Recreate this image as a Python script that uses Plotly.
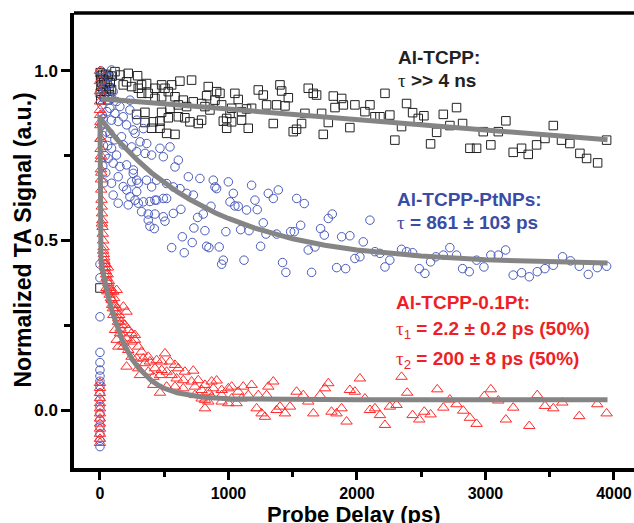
import plotly.graph_objects as go

# ---------------- data ----------------
# Al-TCPP (black open squares)
sq_x = [2, 5, 8, 3, 6, 10, 15, 20, 25, 30, 35, 40, 45, 50, 55, 60, 65, 70, 75, 80, 90, 95, 0,
        117, 156, 220, 293, 207, 181, 246, 324, 363, 298, 324, 376, 428, 480, 506, 558, 622, 713,
        532, 480, 584, 428, 648, 610, 545, 674, 726, 791, 843, 908, 934, 830, 895, 856, 817, 947,
        1025, 1050, 1076, 1102, 1141, 1232, 1271, 1401, 1414, 1466, 1297, 1375, 1440, 1180, 1012,
        986, 960, 1102, 1025, 1154, 1349, 1504, 1530, 1569, 1621, 1660, 1686, 1816, 1881, 1894,
        1984, 1829, 1595, 1725, 1777, 1945, 1738, 610, 532, 467, 415, 350, 402, 467, 519, 584, 700,
        765, 791, 661, 350, 480, 285, 986,
        2218, 2101, 2062, 2140, 2179, 2256, 2386, 2433, 2477, 2521, 2672, 2775, 2723, 2620, 2347,
        2295, 2573, 2822, 2983, 3100, 3159, 2879, 2931, 3042, 3216, 3281, 3333, 3398, 3528, 3463,
        3592, 3657, 3735, 3943, 3787, 3873]
sq_y = [0.995, 0.975, 0.955, 0.935, 0.915, 0.985, 0.965, 0.99, 0.945, 0.975, 0.925, 0.96, 0.99, 0.94,
        0.97, 0.915, 0.985, 0.95, 0.93, 0.965, 0.945, 0.985, 0.36,
        0.998, 0.988, 0.993, 0.986, 0.968, 0.959, 0.954, 0.959, 0.963, 0.949, 0.934, 0.934, 0.949,
        0.959, 0.949, 0.959, 0.970, 0.973, 0.939, 0.924, 0.924, 0.919, 0.914, 0.900, 0.890, 0.895,
        0.909, 0.904, 0.954, 0.939, 0.934, 0.927, 0.914, 0.885, 0.895, 0.900, 0.890, 0.934, 0.916,
        0.880, 0.888, 0.944, 0.929, 0.959, 0.941, 0.921, 0.900, 0.900, 0.897, 0.890, 0.875, 0.860,
        0.852, 0.855, 0.850, 0.831, 0.845, 0.821, 0.828, 0.845, 0.949, 0.934, 0.929, 0.926, 0.919,
        0.900, 0.900, 0.892, 0.875, 0.875, 0.848, 0.833, 0.813, 0.865, 0.862, 0.852, 0.850, 0.848,
        0.831, 0.831, 0.816, 0.813, 0.850, 0.845, 0.855, 0.862, 0.878, 0.878, 0.872, 0.831,
        0.934, 0.900, 0.880, 0.865, 0.865, 0.870, 0.904, 0.877, 0.860, 0.868, 0.872, 0.892, 0.839,
        0.819, 0.836, 0.796, 0.785, 0.845, 0.821, 0.821, 0.853, 0.772, 0.772, 0.782, 0.760, 0.772,
        0.754, 0.782, 0.839, 0.801, 0.796, 0.786, 0.757, 0.796, 0.742, 0.729]

# Al-TCPP-PtNPs (blue open circles)
ci_x = [0, 0, 0, 0, 0, 0, 0, 0, 0, 0, 0, 0, 0, 0, 0, 0, 0, 0,
        8, 12, 10, 15, 18, 12, 20, 25, 30, 35, 28, 40, 22, 45, 30, 50, 55, 60,
        90, 77, 64, 103, 90, 129, 77, 155, 116, 90, 142, 181, 233, 207, 259, 77, 116, 168, 181, 90,
        129, 64, 103, 155, 207, 142, 90, 181, 259, 298, 233, 103, 142, 220, 298,
        234, 286, 273, 247, 286, 260, 286, 247, 208, 286, 273,
        338, 312, 364, 351, 402, 545, 467, 493, 584, 363, 441, 402, 519, 571, 493,
        324, 389, 376, 428, 376, 493, 571, 506, 389, 423, 630, 441, 519, 428, 338,
        610, 688, 778, 882, 895, 999, 908, 675, 727, 623, 1038, 1180, 1310, 1388, 1349, 1531, 1590,
        731, 817, 641, 718, 558, 656, 830, 848, 928, 760, 804, 864, 980, 1095, 1160, 960, 947, 1121,
        1250, 1271, 1292, 1375, 1484, 1512, 1562, 1224, 1141, 1206, 1076, 1012, 1050, 1421, 1447,
        1647, 1621, 1673, 1777, 1808, 1717, 1746, 1881, 1945, 2049, 1984, 2023, 1842, 1912,
        2101, 2140, 2179, 2256, 2218, 2347, 2386, 2433, 2485, 2529, 2573, 2614, 2672, 2723, 2775,
        2822, 2874, 2931, 2988, 3042, 3100, 3157, 3216, 3281, 3341, 3403, 3463, 3528, 3600, 3662,
        3730, 3800, 3870, 3943]
ci_y = [0.43, 0.39, 0.275, 0.17, 0.14, 0.118, 0.10, 0.085, 0.07, 0.05, 0.03, 0.01, -0.01, -0.03,
        -0.05, -0.07, -0.09, -0.108,
        1.0, 0.97, 0.93, 0.90, 0.87, 0.84, 0.81, 0.86, 0.92, 0.95, 0.78, 0.75, 0.72, 0.70, 0.67,
        0.82, 0.88, 0.78,
        1.003, 0.983, 0.959, 0.939, 0.919, 0.910, 0.890, 0.895, 0.875, 0.855, 0.851, 0.865, 0.885,
        0.841, 0.826, 0.816, 0.797, 0.806, 0.782, 0.772, 0.752, 0.742, 0.728, 0.718, 0.723, 0.688,
        0.669, 0.659, 0.698, 0.669, 0.629, 0.634, 0.610, 0.605, 0.610,
        0.914, 0.855, 0.816, 0.776, 0.762, 0.708, 0.678, 0.673, 0.649, 0.644, 0.619,
        0.830, 0.791, 0.786, 0.757, 0.752, 0.776, 0.772, 0.747, 0.717, 0.678, 0.678, 0.658, 0.668,
        0.658, 0.624,
        0.585, 0.615, 0.578, 0.578, 0.560, 0.570, 0.580, 0.557, 0.542, 0.535, 0.592, 0.619, 0.624,
        0.619, 0.614,
        0.737, 0.688, 0.683, 0.678, 0.658, 0.673, 0.653, 0.639, 0.634, 0.653, 0.639, 0.663, 0.639,
        0.649, 0.624, 0.624, 0.609,
        0.537, 0.529, 0.511, 0.494, 0.479, 0.464, 0.483, 0.479, 0.481, 0.568, 0.578, 0.601, 0.526,
        0.532, 0.529, 0.442, 0.430, 0.442, 0.483, 0.552, 0.519, 0.519, 0.526, 0.526, 0.545, 0.591,
        0.590, 0.619, 0.601, 0.614, 0.602, 0.435, 0.406, 0.406, 0.472, 0.481, 0.565, 0.578, 0.535,
        0.516, 0.511, 0.514, 0.496, 0.447, 0.452, 0.420, 0.417,
        0.560, 0.467, 0.462, 0.442, 0.422, 0.474, 0.467, 0.464, 0.417, 0.403, 0.437, 0.452, 0.457,
        0.479, 0.457, 0.417, 0.408, 0.442, 0.422, 0.457, 0.457, 0.472, 0.398, 0.405, 0.393, 0.408,
        0.417, 0.427, 0.452, 0.440, 0.424, 0.400, 0.420, 0.424]

# Al-TCPP-0.1Pt (red open triangles)
tr_x = [0, 0, 0, 0, 0, 0, 0, 0, 0, 0, 0, 0, 0, 0, 0, 0, 0, 0,
        2, 3, 4, 5, 6, 7, 8, 10, 12, 14, 16, 18, 20, 22, 25, 28, 30, 33, 36, 40, 44, 48, 52, 56,
        60, 15, 25, 35, 45, 10, 8, 6, 4, 50, 58, 62, 70, 75, 80, 85, 90, 95, 100, 110, 120, 130,
        140, 150, 160, 170,
        65, 78, 104, 130, 91, 117, 182, 207, 104, 143, 169, 194, 220, 246, 272, 117, 156, 130, 182,
        207, 246, 272, 143, 182, 220, 298, 324, 246, 285, 337, 376, 207, 298, 350, 389, 441, 480,
        506, 545, 584, 480, 428, 376, 311, 415, 467, 519, 558, 610, 661, 726, 597, 648, 713, 765,
        817, 869, 908, 415, 467, 519, 584, 648, 739, 791, 843, 882, 947, 999, 1025, 1076, 1115,
        1180, 1310, 1349, 947, 1025, 843, 817, 947, 1063, 1102, 1154, 1232, 1297, 1219, 1258, 1284,
        1375, 1401, 1440, 1479, 1530, 817, 869, 999, 739, 791,
        1582, 1621, 1660, 1712, 1751, 1777, 1802, 1841, 1880, 1919, 1945, 1984, 2023, 2062,
        2101, 2140, 2179, 2218, 2256, 2308, 2347, 2391, 2433, 2485, 2524, 2573, 2625, 2672, 2723,
        2775, 2827, 2879, 2931, 2991, 3042, 3100, 3159, 3216, 3341, 3403, 3463, 3528, 3598, 3730,
        3870, 3943]
tr_y = [1.0, 0.97, 0.94, 0.91, 0.885, 0.08, 0.065, 0.05, 0.035, 0.02, 0.005, -0.01, -0.025, -0.04,
        -0.055, -0.07, -0.085, -0.097,
        0.87, 0.84, 0.80, 0.77, 0.74, 0.71, 0.68, 0.65, 0.62, 0.60, 0.58, 0.56, 0.54, 0.52, 0.50,
        0.48, 0.46, 0.45, 0.43, 0.42, 0.41, 0.40, 0.39, 0.38, 0.40, 0.55, 0.47, 0.44, 0.43, 0.70,
        0.75, 0.80, 0.85, 0.36, 0.35, 0.42, 0.38, 0.34, 0.36, 0.33, 0.35, 0.31, 0.30, 0.33, 0.29,
        0.30, 0.26, 0.28, 0.24, 0.25,
        0.374, 0.354, 0.349, 0.354, 0.325, 0.310, 0.305, 0.290, 0.280, 0.270, 0.261, 0.251, 0.236,
        0.226, 0.221, 0.236, 0.226, 0.207, 0.202, 0.211, 0.202, 0.207, 0.187, 0.187, 0.177, 0.187,
        0.172, 0.157, 0.152, 0.152, 0.157, 0.128, 0.123, 0.138, 0.143, 0.147, 0.143, 0.167, 0.143,
        0.133, 0.118, 0.123, 0.113, 0.103, 0.098, 0.103, 0.113, 0.103, 0.123, 0.113, 0.116, 0.093,
        0.088, 0.084, 0.088, 0.074, 0.084, 0.087, 0.074, 0.051, 0.069, 0.069, 0.064, 0.069, 0.059,
        0.054, 0.064, 0.059, 0.064, 0.069, 0.054, 0.069, 0.074, 0.069, 0.084, 0.044, 0.034, 0.025,
        0.005, 0.025, 0.020, 0.034, 0.044, 0.044, 0.044, 0.005, -0.010, -0.020, 0.000, 0.010,
        -0.010, 0.010, 0.054, 0.030, 0.039, 0.020, 0.044, 0.034,
        0.044, 0.025, -0.010, 0.044, 0.064, 0.079, -0.005, -0.010, 0.005, -0.034, 0.059, 0.054,
        0.093, 0.034,
        0.000, 0.005, -0.015, -0.044, 0.010, 0.015, 0.098, 0.051, -0.015, -0.028, -0.005, -0.013,
        0.061, 0.007, 0.031, 0.017, -0.002, -0.023, -0.041, 0.041, 0.061, 0.028, -0.028, 0.007,
        -0.047, 0.044, 0.012, 0.005, 0.022, -0.018, 0.017, -0.010]

# fitted curves
fit_black_x = [10, 500, 1000, 1500, 2000, 2500, 3000, 3500, 3950]
fit_black_y = [0.918, 0.903, 0.888, 0.872, 0.857, 0.842, 0.826, 0.811, 0.797]
fit_blue_x = [5, 50, 100, 150, 200, 300, 400, 500, 600, 700, 800, 900, 1000, 1200, 1500, 1750,
              2000, 2500, 3000, 3500, 3950]
fit_blue_y = [0.860, 0.836, 0.813, 0.791, 0.771, 0.734, 0.700, 0.670, 0.644, 0.621, 0.600, 0.581,
              0.565, 0.537, 0.505, 0.486, 0.472, 0.454, 0.443, 0.437, 0.434]
fit_red_x = [0, 1, 2, 4, 8, 15, 30, 50, 75, 100, 125, 150, 175, 200, 225, 250, 300, 350, 400, 450,
             500, 600, 700, 800, 1000, 1500, 2000, 3000, 3950]
fit_red_y = [0.870, 0.715, 0.615, 0.510, 0.445, 0.420, 0.392, 0.357, 0.319, 0.285, 0.255, 0.228,
             0.205, 0.185, 0.166, 0.150, 0.124, 0.103, 0.087, 0.074, 0.064, 0.051, 0.043, 0.038,
             0.033, 0.031, 0.030, 0.030, 0.030]

x_ticks = [0, 1000, 2000, 3000, 4000]
y_ticks = [0.0, 0.5, 1.0]
y_ticktext = ["0.0", "0.5", "1.0"]

BLACK = "#222222"
BLUE = "#4a5bbd"
RED = "#ff2a2a"
BLUE_TXT = "#3a4ca6"
RED_TXT = "#ee1f26"
GREY = "#858585"
FONT = "Liberation Sans, Arial, sans-serif"

fig = go.Figure()
fig.add_trace(go.Scatter(x=sq_x, y=sq_y, mode="markers",
                         marker=dict(symbol="square-open", size=8.5, color=BLACK, line=dict(width=1))))
fig.add_trace(go.Scatter(x=ci_x, y=ci_y, mode="markers",
                         marker=dict(symbol="circle-open", size=8.5, color=BLUE, line=dict(width=1))))
fig.add_trace(go.Scatter(x=tr_x, y=tr_y, mode="markers",
                         marker=dict(symbol="triangle-up-open", size=10, color=RED, line=dict(width=1))))
for fx, fy in [(fit_black_x, fit_black_y), (fit_blue_x, fit_blue_y), (fit_red_x, fit_red_y)]:
    fig.add_trace(go.Scatter(x=fx, y=fy, mode="lines", line=dict(color=GREY, width=5)))

tau = '<span style="font-weight:normal;font-family:Liberation Serif, serif">τ</span>'
ann = [
    dict(x=2303, y=1.039, text="Al-TCPP:", color=BLACK),
    dict(x=2303, y=0.973, text=tau + " >> 4 ns", color=BLACK),
    dict(x=2296, y=0.622, text="Al-TCPP-PtNPs:", color=BLUE_TXT),
    dict(x=2296, y=0.552, text=tau + " = 861 ± 103 ps", color=BLUE_TXT),
    dict(x=2290, y=0.316, text="Al-TCPP-0.1Pt:", color=RED_TXT),
    dict(x=2290, y=0.236, text=tau + '<sub><span style="font-weight:normal">1</span></sub> = 2.2 ± 0.2 ps (50%)', color=RED_TXT),
    dict(x=2290, y=0.148, text=tau + '<sub><span style="font-weight:normal">2</span></sub> = 200 ± 8 ps (50%)', color=RED_TXT),
]
annotations = []
for a in ann:
    annotations.append(dict(x=a["x"], y=a["y"], xref="x", yref="y", text=a["text"], showarrow=False,
                            xanchor="left", yanchor="middle",
                            font=dict(family=FONT, size=19, color=a["color"], weight="bold")))
annotations.append(dict(x=0.5, y=0, xref="paper", yref="paper", yshift=-46, text="Probe Delay (ps)",
                        showarrow=False, xanchor="center", yanchor="middle",
                        font=dict(family=FONT, size=22, color="black", weight="bold")))
annotations.append(dict(x=0, y=0.5, xref="paper", yref="paper", xshift=-52, textangle=-90,
                        text="Normalized TA Signal (a.u.)", showarrow=False,
                        xanchor="center", yanchor="middle",
                        font=dict(family=FONT, size=23, color="black", weight="bold")))

fig.update_layout(
    width=634, height=523,
    margin=dict(l=74, r=0, t=13, b=55, autoexpand=False),
    paper_bgcolor="white", plot_bgcolor="white",
    showlegend=False,
    annotations=annotations,
    shapes=[dict(type="line", xref="paper", yref="paper", x0=0, x1=1, y0=1, y1=1,
                 line=dict(color="black", width=3.5))],
    xaxis=dict(range=[-202, 4156], tickvals=x_ticks, ticks="outside", ticklen=8, tickwidth=3,
               tickcolor="black", showline=True, linewidth=3.5, linecolor="black", mirror=False,
               showgrid=False, zeroline=False,
               tickfont=dict(family=FONT, size=16, color="black", weight="bold"),
               minor=dict(tickvals=[500, 1500, 2500, 3500], ticks="outside", ticklen=5,
                          tickwidth=3, tickcolor="black", showgrid=False)),
    yaxis=dict(range=[-0.171, 1.171], tickvals=y_ticks, ticktext=y_ticktext, ticks="outside",
               ticklen=9, tickwidth=3, tickcolor="black", showline=True, linewidth=3.5,
               linecolor="black", mirror=False, showgrid=False, zeroline=False,
               tickfont=dict(family=FONT, size=17, color="black", weight="bold"),
               minor=dict(tickvals=[0.25, 0.75], ticks="outside", ticklen=6, tickwidth=3,
                          tickcolor="black", showgrid=False)),
)

fig.write_html("out.html", config={"displayModeBar": False},
               post_script="document.body.style.margin='0';document.body.style.overflow='hidden';")
